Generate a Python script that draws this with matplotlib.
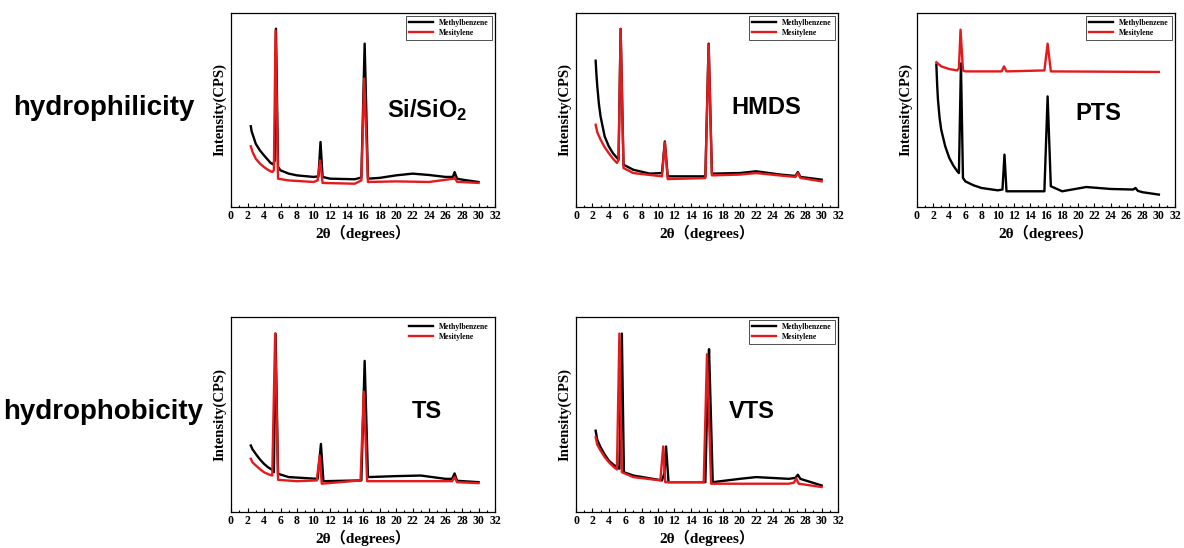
import matplotlib
matplotlib.use('Agg')
import matplotlib.pyplot as plt
from matplotlib.ticker import MultipleLocator

plt.rcParams['font.family'] = ['Liberation Serif', 'Noto Sans CJK SC']
plt.rcParams['font.weight'] = 'bold'
plt.rcParams['mathtext.fontset'] = 'custom'
plt.rcParams['mathtext.rm'] = 'Liberation Sans:bold'
plt.rcParams['mathtext.it'] = 'Liberation Sans:bold'
plt.rcParams['mathtext.bf'] = 'Liberation Sans:bold'

# intensities in a normalised unit (0 = bottom of frame, 100 = top)
# --- Si/SiO2 ---
sio2_black_x = [2.4, 2.5, 2.7, 3, 3.5, 4, 4.5, 4.8, 5.1, 5.3, 5.45, 5.7, 6, 7, 8, 10, 10.6, 10.85, 11.1, 12, 15, 15.8, 16.2, 16.6, 18, 20, 22, 24, 26, 26.9, 27.1, 27.4, 28, 30]
sio2_black_y = [41.6, 39, 36.5, 32.6, 29.2, 26.6, 24.2, 22.7, 22, 24, 91.9, 20.6, 18.9, 17.2, 16.3, 15.5, 15.8, 33.5, 15.5, 14.6, 14.3, 15.2, 84.2, 14.6, 15, 16.3, 17.2, 16.5, 15.5, 15.5, 18, 14.6, 14.1, 12.9]
sio2_red_x = [2.4, 2.6, 3, 3.5, 4, 4.5, 5, 5.2, 5.4, 5.7, 7, 10, 10.5, 10.8, 11.1, 15, 15.8, 16.15, 16.6, 20, 24, 27, 27.1, 27.4, 30]
sio2_red_y = [31.3, 28.5, 24.9, 22.4, 20.6, 19.1, 18, 19, 91, 14.6, 13.7, 12.9, 13.7, 24, 12.4, 12, 13.7, 66.2, 12.9, 13.2, 12.9, 14.6, 15.2, 13, 12.4]

# --- HMDS ---
hmds_black_x = [2.4, 2.5, 2.6, 2.8, 3, 3.5, 4, 4.5, 5, 5.2, 5.45, 5.8, 7, 9, 10.5, 10.85, 11.2, 15.8, 16.2, 16.6, 20, 22, 25, 26.8, 27.1, 27.4, 30]
hmds_black_y = [75.4, 68, 62.2, 53, 46.7, 36.4, 31.3, 27.8, 25.3, 24.4, 91.8, 21.8, 19.2, 17.2, 17.5, 33.8, 15.8, 15.8, 84.2, 17.2, 17.5, 18.4, 16.7, 16, 18, 15.5, 14.1]
hmds_red_x = [2.4, 2.6, 3, 3.5, 4, 4.5, 5, 5.2, 5.45, 5.8, 7, 10.5, 10.85, 11.2, 15.8, 16.2, 16.6, 20, 22, 25, 26.8, 27.1, 27.4, 30]
hmds_red_y = [42.4, 38.5, 34.7, 30.8, 27.8, 25, 22.7, 24.4, 91.8, 20.1, 17.5, 15.8, 33.3, 14.4, 14.9, 83.7, 16.3, 16.7, 17.5, 16.2, 15.5, 17.5, 15, 13.2]

# --- PTS ---
pts_black_x = [2.4, 2.5, 2.6, 2.8, 3, 3.5, 4, 4.5, 5, 5.2, 5.45, 5.7, 6, 7, 8, 10, 10.6, 10.85, 11.1, 15.8, 16.2, 16.6, 18, 21, 24, 26.8, 27.1, 27.4, 28, 30]
pts_black_y = [73.4, 63, 55.3, 46, 39.9, 31.3, 25.3, 21.4, 18.4, 17.5, 74, 15, 13.2, 11.2, 9.8, 8.6, 9, 27, 8.1, 8.1, 57, 10.7, 8.1, 10.3, 9.3, 9, 9.8, 8.3, 7.6, 6.4]
pts_red_x = [2.4, 3, 4, 5, 5.2, 5.4, 5.7, 6, 10.5, 10.8, 11.1, 15.8, 16.2, 16.6, 30]
pts_red_y = [74.6, 72.5, 71.1, 70.4, 71.6, 91.4, 70.4, 69.9, 69.9, 72.5, 69.9, 70.4, 84.2, 69.9, 69.6]

# --- TS ---
ts_black_x = [2.4, 2.6, 3, 3.5, 4, 4.5, 5, 5.2, 5.4, 5.7, 7, 10.5, 10.9, 11.2, 15.8, 16.2, 16.6, 20, 23, 26, 26.8, 27.1, 27.4, 30]
ts_black_y = [34.1, 32.2, 29.8, 27, 24.7, 22.9, 21.6, 20.4, 91.5, 19.6, 17.9, 17, 34.9, 15.8, 16.2, 77.5, 17.9, 18.4, 18.7, 17, 17, 19.8, 16, 15.3]
ts_red_x = [2.4, 2.6, 3, 3.5, 4, 4.5, 5, 5.35, 5.7, 8, 10.4, 10.75, 11.0, 15.7, 16.1, 16.5, 20, 26, 26.8, 27.1, 27.4, 30]
ts_red_y = [27.3, 25.5, 23.9, 22, 20.4, 19.4, 18.7, 91.5, 16.5, 15.8, 16.2, 29, 14.5, 16.2, 61.7, 15.8, 15.8, 15.8, 15.8, 17.9, 15.3, 14.8]

# --- VTS ---
vts_black_x = [2.4, 2.6, 3, 3.5, 4, 4.5, 5, 5.3, 5.6, 5.85, 7, 10.5, 10.8, 11.0, 11.3, 15.8, 16.1, 16.25, 16.7, 20, 22, 26, 26.8, 27.1, 27.4, 30]
vts_black_y = [41.7, 37, 33.2, 29.5, 26.4, 24.5, 23, 22.2, 91.5, 20.4, 18.7, 16.2, 20, 33.6, 15.3, 15.3, 70, 83.5, 15.3, 17, 17.9, 17, 17.5, 19.1, 17, 13.6]
vts_red_x = [2.4, 2.6, 3, 3.5, 4, 4.5, 5, 5.3, 5.6, 7, 10.3, 10.65, 10.9, 15.6, 16.0, 16.5, 20, 26, 26.6, 26.9, 27.2, 30]
vts_red_y = [38.3, 34.5, 31.5, 28.2, 25.6, 23.5, 21.8, 91.5, 20.4, 17.9, 16.2, 33.6, 15.3, 15.3, 80.9, 14.5, 14.5, 14.5, 15, 17.2, 14.5, 12.8]

panel_names = ['Si/SiO$_2$', 'HMDS', 'PTS', 'TS', 'VTS']
row_labels = ['hydrophilicity', 'hydrophobicity']
series_names = ['Methylbenzene', 'Mesitylene']

W, H = 1184, 548
fig = plt.figure(figsize=(W / 100, H / 100), dpi=100)


def px_axes(left, right, top, bottom):
    return fig.add_axes([left / W, 1 - bottom / H, (right - left) / W, (bottom - top) / H])


panels = [
    (px_axes(231, 495, 13, 207), sio2_black_x, sio2_black_y, sio2_red_x, sio2_red_y, (427, 110), True),
    (px_axes(576, 838, 13, 207), hmds_black_x, hmds_black_y, hmds_red_x, hmds_red_y, (766, 108), True),
    (px_axes(917, 1175, 13, 207), pts_black_x, pts_black_y, pts_red_x, pts_red_y, (1098, 113), True),
    (px_axes(231, 495, 317, 512), ts_black_x, ts_black_y, ts_red_x, ts_red_y, (427, 412), False),
    (px_axes(576, 838, 317, 512), vts_black_x, vts_black_y, vts_red_x, vts_red_y, (752, 412), True),
]

for (ax, bx, by, rx, ry, lab_pos, framed), name in zip(panels, panel_names):
    ax.plot(bx, by, color='black', lw=1.7, label=series_names[0])
    ax.plot(rx, ry, color='#e41a1c', lw=1.7, label=series_names[1])
    ax.set_xlim(0, 32)
    ax.set_ylim(0, 100)
    ax.xaxis.set_major_locator(MultipleLocator(2))
    ax.xaxis.set_minor_locator(MultipleLocator(1))
    ax.set_yticks([])
    ax.tick_params(axis='x', which='major', direction='in', length=3, width=0.8, labelsize=8.5, pad=2)
    ax.tick_params(axis='x', which='minor', direction='in', length=1.5, width=0.8)
    for s in ax.spines.values():
        s.set_linewidth(0.9)
    ax.set_xlabel('2θ（degrees）', fontsize=11, fontweight='bold', labelpad=2)
    ax.set_ylabel('Intensity(CPS)', fontsize=10.5, fontweight='bold', labelpad=3)
    leg = ax.legend(loc='upper right', fontsize=5.5, frameon=framed, fancybox=False,
                    edgecolor='black', handlelength=3.2, borderaxespad=0.4, labelspacing=0.2)
    leg.get_frame().set_linewidth(0.6)
    fig.text(lab_pos[0] / W, 1 - lab_pos[1] / H, name, fontsize=17, fontweight='bold',
             family='Liberation Sans', ha='center', va='center')

fig.text(13 / W, 1 - 108 / H, row_labels[0], fontsize=20, fontweight='bold',
         family='Liberation Sans', ha='left', va='center')
fig.text(3 / W, 1 - 412 / H, row_labels[1], fontsize=20, fontweight='bold',
         family='Liberation Sans', ha='left', va='center')

fig.savefig('out.png', dpi=100)
